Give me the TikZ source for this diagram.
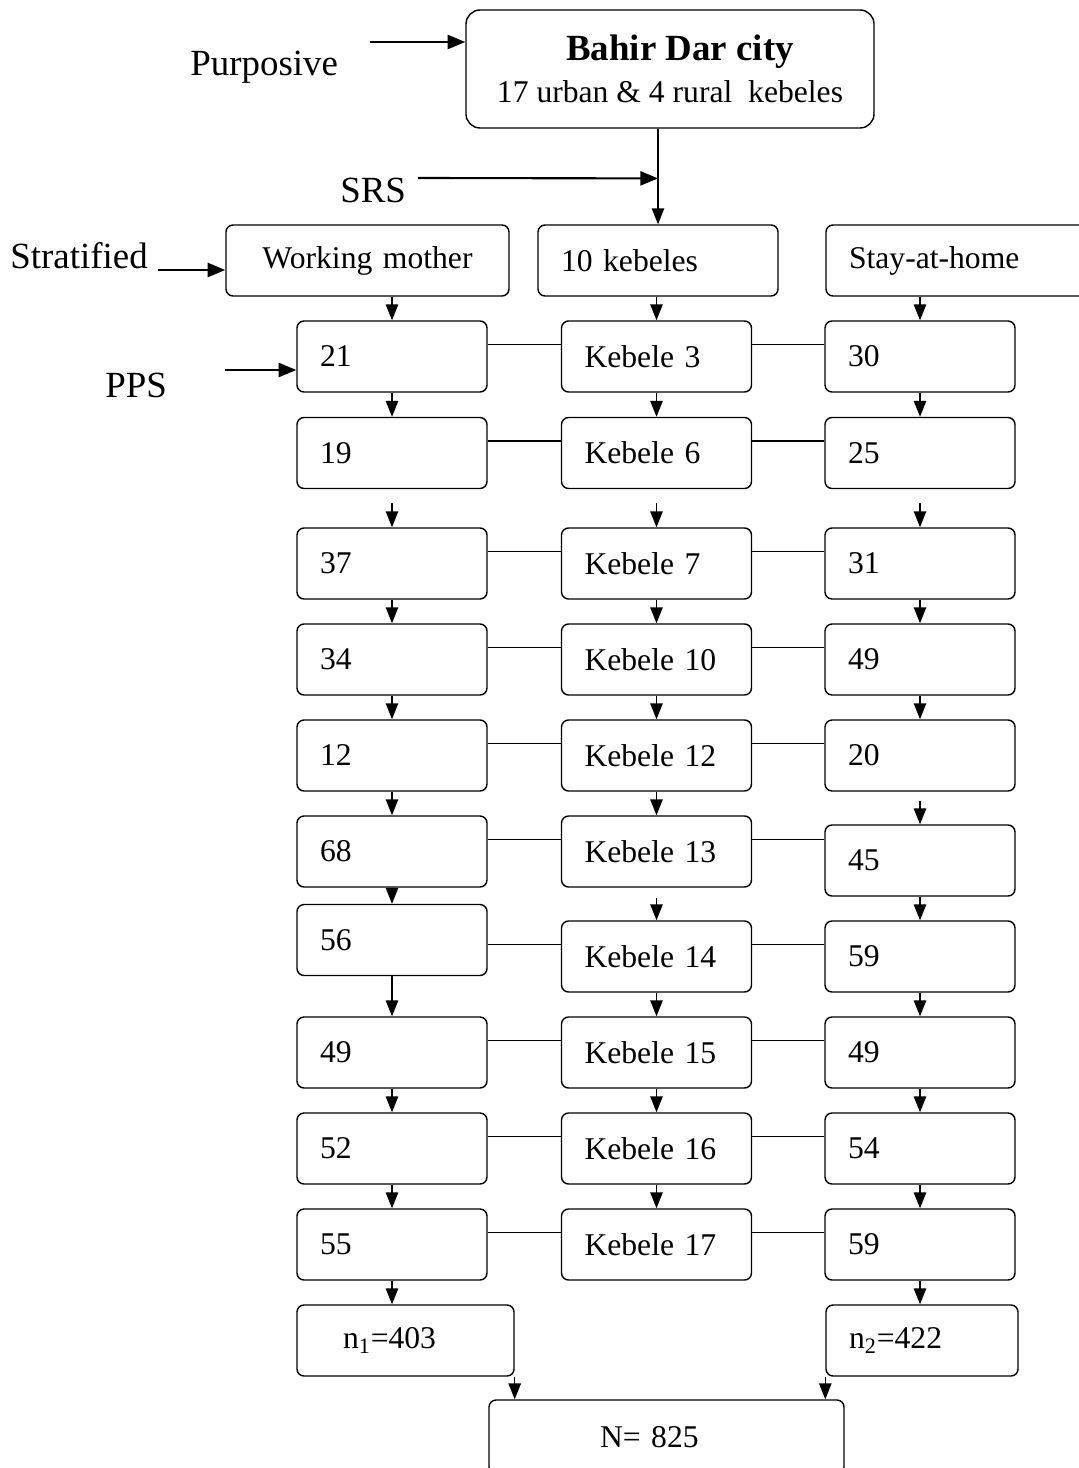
\documentclass[tikz,border=0pt]{standalone}
\usepackage{fontspec}
\setmainfont{Liberation Serif}
\usetikzlibrary{arrows.meta,calc}

\begin{document}
\begin{tikzpicture}[
  font=\fontsize{18}{22}\selectfont,
  cell/.style={draw,line width=0.8pt,rounded corners=4pt,minimum height=1.42cm,
    inner xsep=0.46cm,text width=2.88cm,align=left},
  tag/.style={font=\fontsize{21}{25}\selectfont,inner sep=0pt,anchor=base west},
  arr/.style={-{Triangle[length=9pt,width=7pt]},line width=0.8pt},
  bigarr/.style={-{Triangle[length=10pt,width=8pt]},line width=1.2pt},
  link/.style={line width=0.8pt}]
  \useasboundingbox (0,0) rectangle (21.56,-29.36);

  % sampling labels
  \node[tag] (purp) at (3.80,-1.52) {Purposive};
  \node[tag] (srs) at (6.80,-4.06) {SRS};
  \node[tag] (strat) at (0.20,-5.36) {Stratified};
  \node[tag] (pps) at (2.10,-7.94) {PPS};

  % top
  \node[draw,line width=0.8pt,rounded corners=8pt,minimum width=8.16cm,minimum height=2.36cm,align=center]
    (city) at (13.40,-1.38) {\fontsize{21}{25}\selectfont\bfseries\hspace*{0.4cm}Bahir Dar city\\[2pt]17 urban \& 4 rural\ \ kebeles};
  \node[cell,text width=4.74cm,align=center] (WM) at (7.35,-5.21) {Working mother};
  \node[cell,text width=3.88cm] (K) at (13.16,-5.21) {10 kebeles};
  \node[cell,text width=4.36cm] (SH) at (19.16,-5.21) {Stay-at-home};

  % rows
  \node[cell] (L1) at (7.84,-7.13) {21};
  \node[cell] (M1) at (13.13,-7.13) {Kebele 3};
  \node[cell] (R1) at (18.40,-7.13) {30};
  \node[cell] (L2) at (7.84,-9.06) {19};
  \node[cell] (M2) at (13.13,-9.06) {Kebele 6};
  \node[cell] (R2) at (18.40,-9.06) {25};
  \node[cell] (L3) at (7.84,-11.27) {37};
  \node[cell] (M3) at (13.13,-11.27) {Kebele 7};
  \node[cell] (R3) at (18.40,-11.27) {31};
  \node[cell] (L4) at (7.84,-13.19) {34};
  \node[cell] (M4) at (13.13,-13.19) {Kebele 10};
  \node[cell] (R4) at (18.40,-13.19) {49};
  \node[cell] (L5) at (7.84,-15.11) {12};
  \node[cell] (M5) at (13.13,-15.11) {Kebele 12};
  \node[cell] (R5) at (18.40,-15.11) {20};
  \node[cell] (L6) at (7.84,-17.03) {68};
  \node[cell] (M6) at (13.13,-17.03) {Kebele 13};
  \node[cell] (R6) at (18.40,-17.21) {45};
  \node[cell] (L7) at (7.84,-18.80) {56};
  \node[cell] (M7) at (13.13,-19.13) {Kebele 14};
  \node[cell] (R7) at (18.40,-19.13) {59};
  \node[cell] (L8) at (7.84,-21.05) {49};
  \node[cell] (M8) at (13.13,-21.05) {Kebele 15};
  \node[cell] (R8) at (18.40,-21.05) {49};
  \node[cell] (L9) at (7.84,-22.97) {52};
  \node[cell] (M9) at (13.13,-22.97) {Kebele 16};
  \node[cell] (R9) at (18.40,-22.97) {54};
  \node[cell] (L10) at (7.84,-24.89) {55};
  \node[cell] (M10) at (13.13,-24.89) {Kebele 17};
  \node[cell] (R10) at (18.40,-24.89) {59};

  % totals
  \node[cell,inner xsep=0.92cm,text width=2.50cm] (n1) at (8.11,-26.81) {n\textsubscript{1}=403};
  \node[cell,text width=2.92cm] (n2) at (18.44,-26.81) {n\textsubscript{2}=422};
  \node[cell,inner xsep=2.22cm,text width=2.66cm,minimum height=1.48cm] (N) at (13.33,-28.74) {N= 825};

  % method arrows
  \coordinate (pstart) at (7.40,-0.84);
  \coordinate (sstart) at (8.36,-3.56);
  \coordinate (send) at ($(city.south -| K.north)!0.52!(K.north)$);
  \coordinate (tstart) at (3.16,-5.40);
  \coordinate (ppstart) at (4.50,-7.40);
  \draw[bigarr] (pstart) -- (pstart -| city.west);
  \draw[bigarr] (sstart) -- (send);
  \draw[arr] (city.south -| K.north) -- (K.north);
  \draw[bigarr] (tstart) -- (tstart -| WM.west);
  \draw[bigarr] (ppstart) -- (ppstart -| L1.west);

  % down arrows
  \draw[arr] (L1.north |- WM.south) -- (L1);
  \draw[arr] (M1.north |- K.south) -- (M1);
  \draw[arr] (R1.north |- SH.south) -- (R1);
  \draw[arr] (L1) -- (L2);
  \draw[arr] (M1) -- (M2);
  \draw[arr] (R1) -- (R2);
  \draw[arr,shorten <=0.28cm] (L2) -- (L3);
  \draw[arr,shorten <=0.28cm] (M2) -- (M3);
  \draw[arr,shorten <=0.28cm] (R2) -- (R3);
  \draw[arr] (L3) -- (L4);
  \draw[arr] (M3) -- (M4);
  \draw[arr] (R3) -- (R4);
  \draw[arr] (L4) -- (L5);
  \draw[arr] (M4) -- (M5);
  \draw[arr] (R4) -- (R5);
  \draw[arr] (L5) -- (L6);
  \draw[arr] (M5) -- (M6);
  \draw[arr,shorten <=0.18cm] (R5) -- (R6);
  \draw[arr] (L6) -- (L7);
  \draw[arr,shorten <=0.2cm] (M6) -- (M7);
  \draw[arr] (R6) -- (R7);
  \draw[arr] (L7) -- (L8);
  \draw[arr] (M7) -- (M8);
  \draw[arr] (R7) -- (R8);
  \draw[arr] (L8) -- (L9);
  \draw[arr] (M8) -- (M9);
  \draw[arr] (R8) -- (R9);
  \draw[arr] (L9) -- (L10);
  \draw[arr] (M9) -- (M10);
  \draw[arr] (R9) -- (R10);
  \draw[arr] (L10) -- (L10 |- n1.north);
  \draw[arr] (R10) -- (R10 |- n2.north);
  \draw[arr] (n1.south east) -- (n1.south east |- N.north);
  \draw[arr] (n2.south west) -- (n2.south west |- N.north);

  % cross links
  \draw[link] ([yshift=-0.48cm]M1.north -| L1.east) -- ([yshift=-0.48cm]M1.north west);
  \draw[link] ([yshift=-0.48cm]M1.north east) -- ([yshift=-0.48cm]M1.north -| R1.west);
  \draw[link] ([yshift=-0.48cm]M2.north -| L2.east) -- ([yshift=-0.48cm]M2.north west);
  \draw[link] ([yshift=-0.48cm]M2.north east) -- ([yshift=-0.48cm]M2.north -| R2.west);
  \draw[link] ([yshift=-0.48cm]M3.north -| L3.east) -- ([yshift=-0.48cm]M3.north west);
  \draw[link] ([yshift=-0.48cm]M3.north east) -- ([yshift=-0.48cm]M3.north -| R3.west);
  \draw[link] ([yshift=-0.48cm]M4.north -| L4.east) -- ([yshift=-0.48cm]M4.north west);
  \draw[link] ([yshift=-0.48cm]M4.north east) -- ([yshift=-0.48cm]M4.north -| R4.west);
  \draw[link] ([yshift=-0.48cm]M5.north -| L5.east) -- ([yshift=-0.48cm]M5.north west);
  \draw[link] ([yshift=-0.48cm]M5.north east) -- ([yshift=-0.48cm]M5.north -| R5.west);
  \draw[link] ([yshift=-0.48cm]M6.north -| L6.east) -- ([yshift=-0.48cm]M6.north west);
  \draw[link] ([yshift=-0.48cm]M6.north east) -- ([yshift=-0.48cm]M6.north -| R6.west);
  \draw[link] ([yshift=-0.48cm]M7.north -| L7.east) -- ([yshift=-0.48cm]M7.north west);
  \draw[link] ([yshift=-0.48cm]M7.north east) -- ([yshift=-0.48cm]M7.north -| R7.west);
  \draw[link] ([yshift=-0.48cm]M8.north -| L8.east) -- ([yshift=-0.48cm]M8.north west);
  \draw[link] ([yshift=-0.48cm]M8.north east) -- ([yshift=-0.48cm]M8.north -| R8.west);
  \draw[link] ([yshift=-0.48cm]M9.north -| L9.east) -- ([yshift=-0.48cm]M9.north west);
  \draw[link] ([yshift=-0.48cm]M9.north east) -- ([yshift=-0.48cm]M9.north -| R9.west);
  \draw[link] ([yshift=-0.48cm]M10.north -| L10.east) -- ([yshift=-0.48cm]M10.north west);
  \draw[link] ([yshift=-0.48cm]M10.north east) -- ([yshift=-0.48cm]M10.north -| R10.west);
\end{tikzpicture}
\end{document}
